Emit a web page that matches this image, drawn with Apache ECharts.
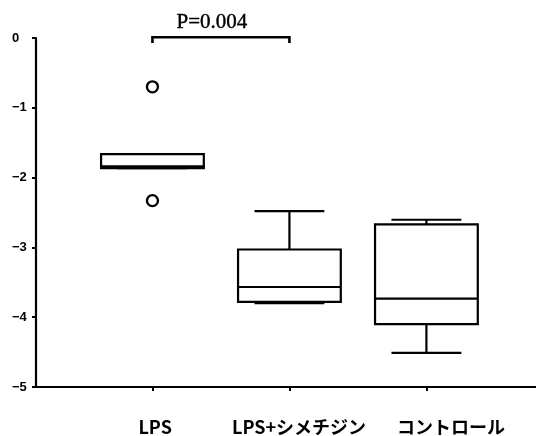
<!DOCTYPE html>
<html>
<head>
<meta charset="utf-8">
<style>
  html, body { margin: 0; padding: 0; background: #fff; }
  #chart { width: 536px; height: 436px; }
</style>
<script src="https://cdn.jsdelivr.net/npm/echarts@6/dist/echarts.min.js"></script>
</head>
<body>
<div id="chart"></div>
<script>
// Groups along the x axis (placed at x = 1, 2, 3)
const categories = ['LPS', 'LPS+シメチジン', 'コントロール'];

// Box-plot statistics per group
const whiskerLow  = [-1.865, -3.80, -4.51];
const q1          = [-1.865, -3.78, -4.10];
const median      = [-1.84, -3.567, -3.733];
const q3          = [-1.664, -3.03, -2.671];
const whiskerHigh = [-1.664, -2.48, -2.604];

// Outlying points: group index and value
const outlierGroup = [0, 0];
const outlierValue = [-0.70, -2.33];

// Y-axis ticks
const yTicks = [0, -1, -2, -3, -4, -5];

// Significance bracket between the first two groups
const pLabel = 'P=0.004';
const pGroups = [0, 1];
const pLevel = 0.01;

const tickPositions = categories.map((_, i) => i + 1);
// Label anchors sit a little right of their ticks
const labelShift = [0.02, 0.07, 0.18];
const labelPositions = tickPositions.map((p, i) => p + labelShift[i]);

const boxData = categories.map((_, i) => [i + 1, whiskerLow[i], q1[i], median[i], q3[i], whiskerHigh[i]]);
const outlierData = outlierGroup.map((g, i) => [g + 1, outlierValue[i]]);

const BOX_HALF = 0.375;   // in x units
const CAP_HALF = 0.255;
const LINE = { stroke: '#000', lineWidth: 2.2, fill: null };

const chart = echarts.init(document.getElementById('chart'), null, { renderer: 'canvas' });

chart.setOption({
  animation: false,
  backgroundColor: '#fff',
  grid: { left: 36, right: 0, top: 38, bottom: 48, containLabel: false },
  xAxis: {
    type: 'value',
    min: 0.15,
    max: 3.8,
    splitLine: { show: false },
    axisLine: { onZero: false, lineStyle: { color: '#000', width: 2.2 } },
    axisTick: { customValues: tickPositions, length: 4, lineStyle: { color: '#000', width: 2 } },
    axisLabel: {
      customValues: labelPositions,
      formatter: v => categories[Math.round(v) - 1] || '',
      margin: 31,
      color: '#000',
      fontSize: 18,
      fontWeight: 'bold',
      fontFamily: '"Noto Sans CJK JP", sans-serif'
    }
  },
  yAxis: {
    type: 'value',
    min: -5,
    max: 0,
    interval: 1,
    splitLine: { show: false },
    axisLine: { onZero: false, lineStyle: { color: '#000', width: 2.2 } },
    axisTick: { length: 4, lineStyle: { color: '#000', width: 2 } },
    axisLabel: {
      customValues: yTicks,
      formatter: v => String(v).replace('-', '\u2212'),
      margin: 24,
      align: 'left',
      padding: [5, 0, 0, 0],
      color: '#000',
      fontSize: 13,
      fontWeight: 'bold',
      fontFamily: '"Liberation Sans", Arial, sans-serif'
    }
  },
  series: [
    {
      type: 'custom',
      data: boxData,
      encode: { x: 0, y: [1, 2, 3, 4, 5] },
      renderItem: function (params, api) {
        const x = api.value(0);
        const pt = (dx, v) => api.coord([x + dx, v]);
        const lo = api.value(1), b1 = api.value(2), md = api.value(3), b3 = api.value(4), hi = api.value(5);
        const line = (a, b) => ({ type: 'line', shape: { x1: a[0], y1: a[1], x2: b[0], y2: b[1] }, style: LINE });
        const tl = pt(-BOX_HALF, b3), br = pt(BOX_HALF, b1);
        return {
          type: 'group',
          children: [
            line(pt(0, hi), pt(0, b3)),
            line(pt(0, b1), pt(0, lo)),
            line(pt(-CAP_HALF, hi), pt(CAP_HALF, hi)),
            line(pt(-CAP_HALF, lo), pt(CAP_HALF, lo)),
            { type: 'rect', shape: { x: tl[0], y: tl[1], width: br[0] - tl[0], height: br[1] - tl[1] },
              style: { stroke: '#000', lineWidth: 2.2, fill: '#fff' } },
            line(pt(-BOX_HALF, md), pt(BOX_HALF, md))
          ]
        };
      },
      z: 2
    },
    {
      type: 'scatter',
      data: outlierData,
      symbol: 'circle',
      symbolSize: 11,
      itemStyle: { color: '#fff', borderColor: '#000', borderWidth: 2.4, opacity: 1 },
      z: 3
    },
    {
      type: 'custom',
      data: [[pGroups[0] + 1, pGroups[1] + 1, pLevel]],
      renderItem: function (params, api) {
        const a = api.coord([api.value(0), api.value(2)]);
        const b = api.coord([api.value(1), api.value(2)]);
        const drop = api.size([0, 0.08])[1];
        return {
          type: 'group',
          children: [
            { type: 'polyline',
              shape: { points: [[a[0], a[1] + drop], a, b, [b[0], b[1] + drop]] },
              style: { stroke: '#000', lineWidth: 2.6, fill: null } },
            { type: 'text',
              x: (a[0] + b[0]) / 2 - 9, y: a[1] - 15,
              style: { text: pLabel, fill: '#000', font: '21px "Liberation Serif", "Times New Roman", serif',
                       align: 'center', verticalAlign: 'middle', stroke: '#000', lineWidth: 0.4 } }
          ]
        };
      },
      z: 4
    }
  ]
});
</script>
</body>
</html>
